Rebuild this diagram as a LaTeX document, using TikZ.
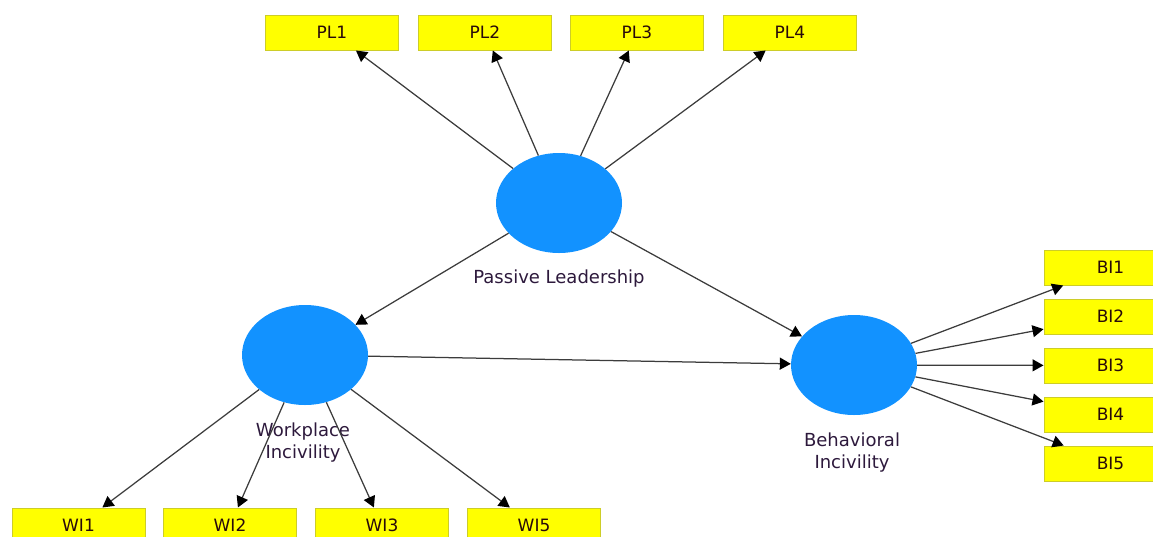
\documentclass[tikz,border=0pt]{standalone}
\usepackage{fontspec}
\setmainfont{DejaVu Sans}
\usetikzlibrary{shapes.geometric,arrows.meta}
\definecolor{lvblue}{RGB}{18,146,255}
\definecolor{boxedge}{RGB}{205,205,40}
\definecolor{boxfill}{RGB}{255,255,0}
\definecolor{linegray}{RGB}{60,60,60}
\definecolor{txt}{RGB}{40,10,10}
\definecolor{lbltxt}{RGB}{45,25,60}
\begin{document}
\begin{tikzpicture}[x=1pt,y=-1pt,
  ind/.style={rectangle,fill=boxfill,draw=boxedge,line width=1pt,minimum width=133pt,minimum height=35pt,inner sep=0pt,font=\fontsize{17}{20}\selectfont,text=txt},
  lv/.style={ellipse,fill=lvblue,minimum width=126pt,minimum height=100pt,inner sep=0pt},
  lbl/.style={font=\fontsize{18}{22}\selectfont,text=lbltxt,align=center},
  arr/.style={draw=linegray,line width=1.25pt,-{Triangle[length=11pt,width=12pt,color=black]}}]
\useasboundingbox (0,0) rectangle (1153,536);
% indicator boxes
\node[ind] (pl1) at (332,32.5) {PL1};
\node[ind] (pl2) at (485,32.5) {PL2};
\node[ind] (pl3) at (637,32.5) {PL3};
\node[ind] (pl4) at (790,32.5) {PL4};
\node[ind] (wi1) at (78.5,525.5) {WI1};
\node[ind] (wi2) at (230,525.5) {WI2};
\node[ind] (wi3) at (382,525.5) {WI3};
\node[ind] (wi5) at (534,525.5) {WI5};
\node[ind] (bi1) at (1110.5,267.5) {BI1};
\node[ind] (bi2) at (1110.5,316.5) {BI2};
\node[ind] (bi3) at (1110.5,365.5) {BI3};
\node[ind] (bi4) at (1110.5,414.5) {BI4};
\node[ind] (bi5) at (1110.5,463.5) {BI5};
% latent variables
\node[lv] (pl) at (559,203) {};
\node[lv] (wi) at (305,355) {};
\node[lv] (bi) at (854,365) {};
% labels
\node[lbl,anchor=base] (pllab) at (559,283) {Passive Leadership};
\node[lbl] (wilab) at (303,443) {Workplace\\Incivility};
\node[lbl] (bilab) at (852,453) {Behavioral\\Incivility};
% paths
\draw[arr] (pl) -- (pl1);
\draw[arr] (pl) -- (pl2);
\draw[arr] (pl) -- (pl3);
\draw[arr] (pl) -- (pl4);
\draw[arr] (pl) -- (wi);
\draw[arr] (pl) -- (bi);
\draw[arr] (wi) -- (bi);
\draw[arr] (wi) -- (wi1);
\draw[arr] (wi) -- (wi2);
\draw[arr] (wi) -- (wi3);
\draw[arr] (wi) -- (wi5);
\draw[arr] (bi) -- (bi1);
\draw[arr] (bi) -- (bi2);
\draw[arr] (bi) -- (bi3);
\draw[arr] (bi) -- (bi4);
\draw[arr] (bi) -- (bi5);
\end{tikzpicture}
\end{document}
